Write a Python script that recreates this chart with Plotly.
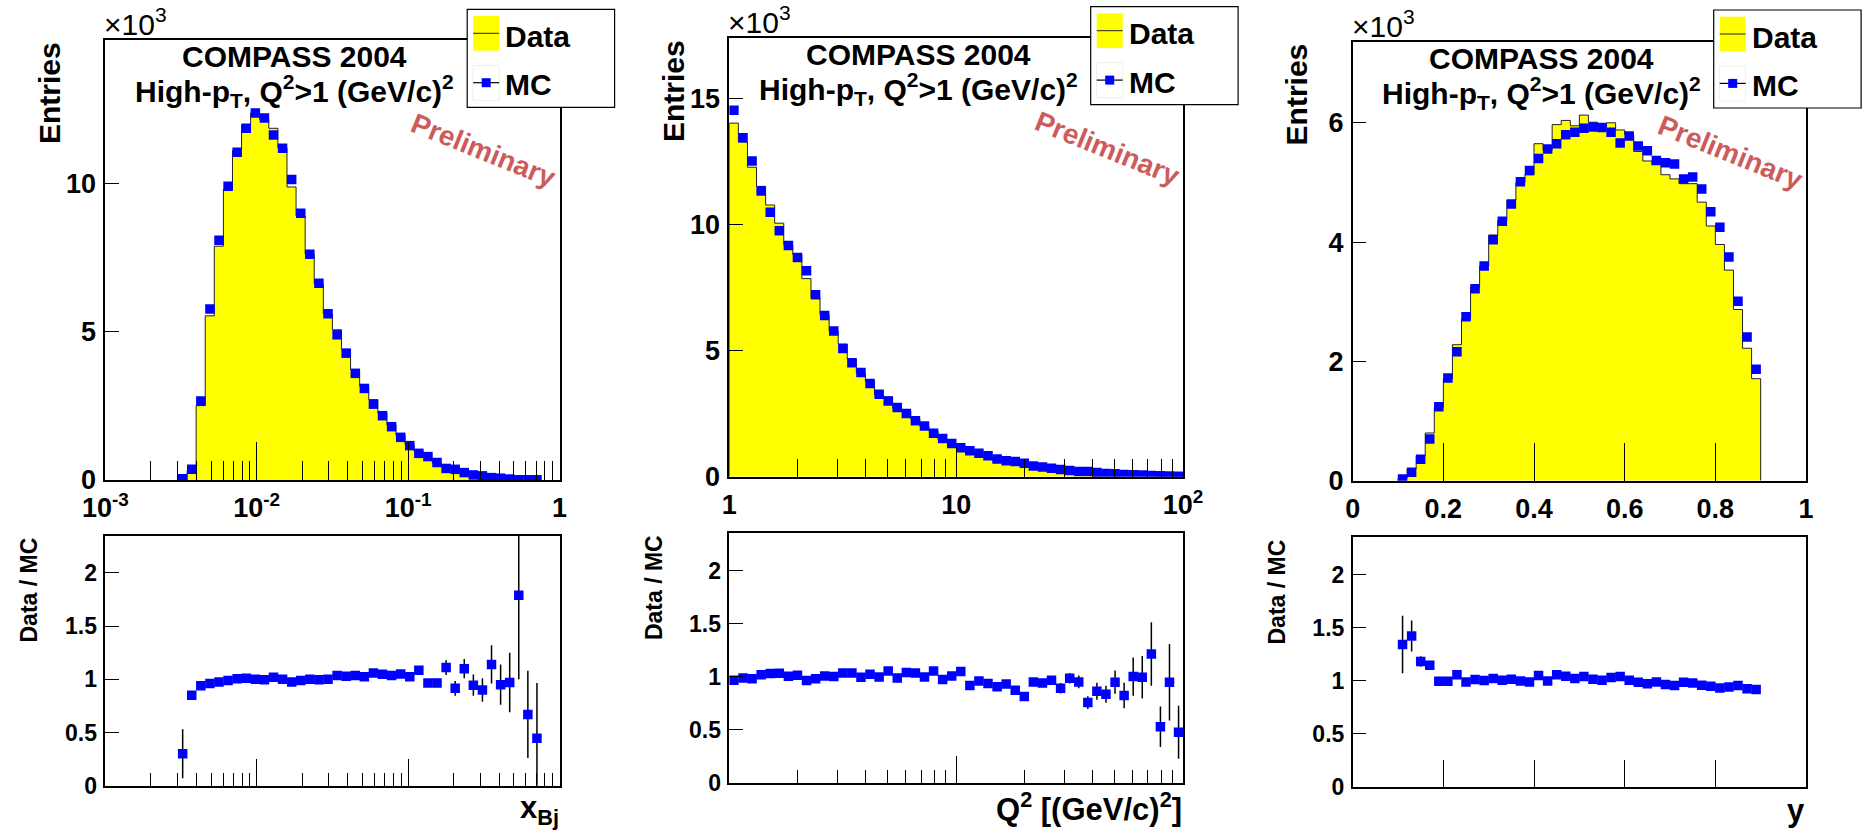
import numpy as np
import plotly.graph_objects as go

W, H = 1865, 830
FONT = "Liberation Sans"

# ---------------- data (values in units of 10^3 entries) ----------------
# Panel 1: x_Bj, 50 log bins from 1e-3 to 1, non-empty bins 8..47
xbj_first_bin = 8
xbj_mc = [0.04, 0.36, 2.67, 5.77, 8.09, 9.91, 11.06, 11.87, 12.39, 12.22,
          11.64, 11.20, 10.14, 9.00, 7.62, 6.64, 5.61, 4.90, 4.28, 3.60,
          3.09, 2.56, 2.17, 1.80, 1.44, 1.16, 0.90, 0.79, 0.59, 0.39,
          0.36, 0.25, 0.17, 0.14, 0.08, 0.06, 0.03, 0.01, 0.008, 0.005]
xbj_data = [0.01, 0.31, 2.51, 5.54, 7.89, 9.81, 11.12, 11.99, 12.39, 12.16,
            11.87, 11.20, 9.89, 8.91, 7.62, 6.61, 5.61, 5.07, 4.41, 3.73,
            3.17, 2.71, 2.27, 1.86, 1.51, 1.19, 0.98, 0.76, 0.57, 0.43,
            0.33, 0.275, 0.16, 0.126, 0.091, 0.057, 0.029, 0.018, 0.005, 0.002]
xbj_ratio = [0.30, 0.85, 0.94, 0.96, 0.975, 0.99, 1.005, 1.01, 1.0, 0.995,
             1.02, 1.0, 0.975, 0.99, 1.0, 0.995, 1.0, 1.035, 1.03, 1.035,
             1.025, 1.06, 1.047, 1.035, 1.05, 1.025, 1.085, 0.965, 0.965, 1.11,
             0.915, 1.10, 0.945, 0.90, 1.14, 0.95, 0.97, 1.79, 0.67, 0.445]
xbj_ratio_err = [0.23, 0.03, 0.015, 0.012, 0.01, 0.01, 0.01, 0.01, 0.01, 0.01,
                 0.01, 0.01, 0.01, 0.01, 0.01, 0.01, 0.012, 0.012, 0.014, 0.015,
                 0.016, 0.018, 0.02, 0.022, 0.025, 0.028, 0.03, 0.035, 0.04, 0.07,
                 0.07, 0.09, 0.10, 0.11, 0.18, 0.19, 0.28, 0.79, 0.41, 0.52]

# Panel 2: Q^2, 50 log bins from 1 to 100
q2_first_bin = 0
q2_mc = [14.54, 13.45, 12.53, 11.34, 10.49, 9.76, 9.17, 8.70, 8.17, 7.22,
         6.40, 5.78, 5.09, 4.52, 4.13, 3.70, 3.27, 3.00, 2.75, 2.51,
         2.22, 2.01, 1.72, 1.52, 1.32, 1.15, 1.03, 0.93, 0.83, 0.70,
         0.63, 0.60, 0.53, 0.42, 0.38, 0.34, 0.29, 0.25, 0.21, 0.21,
         0.17, 0.13, 0.12, 0.09, 0.08, 0.07, 0.05, 0.04, 0.03, 0.02]
q2_data = [14.03, 13.28, 12.28, 11.52, 10.78, 10.06, 9.20, 8.81, 7.86, 7.08,
           6.44, 5.78, 5.26, 4.67, 4.11, 3.78, 3.26, 3.16, 2.71, 2.61,
           2.30, 2.00, 1.81, 1.48, 1.33, 1.20, 0.94, 0.89, 0.78, 0.63,
           0.59, 0.52, 0.43, 0.40, 0.36, 0.33, 0.26, 0.25, 0.20, 0.16,
           0.15, 0.11, 0.11, 0.074, 0.08, 0.07, 0.06, 0.021, 0.028, 0.01]
q2_ratio = [0.965, 0.987, 0.98, 1.016, 1.028, 1.031, 1.003, 1.013, 0.962, 0.98,
            1.006, 1.0, 1.034, 1.034, 0.994, 1.022, 0.997, 1.053, 0.987, 1.038,
            1.034, 0.997, 1.053, 0.972, 1.006, 1.047, 0.915, 0.959, 0.934, 0.903,
            0.931, 0.871, 0.812, 0.95, 0.94, 0.965, 0.89, 0.984, 0.95, 0.755,
            0.862, 0.834, 0.947, 0.821, 1.0, 0.994, 1.213, 0.527, 0.947, 0.476]
q2_ratio_err = [0.01, 0.01, 0.01, 0.01, 0.01, 0.01, 0.01, 0.01, 0.01, 0.01,
                0.01, 0.01, 0.01, 0.01, 0.01, 0.01, 0.01, 0.01, 0.01, 0.01,
                0.01, 0.01, 0.01, 0.01, 0.01, 0.01, 0.02, 0.02, 0.02, 0.025,
                0.025, 0.03, 0.03, 0.03, 0.03, 0.04, 0.05, 0.05, 0.06, 0.06,
                0.08, 0.08, 0.11, 0.12, 0.18, 0.20, 0.30, 0.19, 0.36, 0.25]

# Panel 3: y, 50 linear bins from 0 to 1, non-empty bins 5..44
y_first_bin = 5
y_mc = [0.03, 0.14, 0.36, 0.70, 1.24, 1.72, 2.16, 2.75, 3.22, 3.60,
        4.04, 4.35, 4.64, 5.01, 5.20, 5.40, 5.56, 5.65, 5.80, 5.84,
        5.91, 5.93, 5.92, 5.84, 5.66, 5.78, 5.61, 5.53, 5.37, 5.33,
        5.31, 5.06, 5.09, 4.89, 4.51, 4.25, 3.75, 3.01, 2.41, 1.87]
y_data = [0.04, 0.20, 0.42, 0.80, 1.23, 1.71, 2.28, 2.71, 3.25, 3.60,
          4.12, 4.36, 4.70, 5.00, 5.13, 5.65, 5.54, 5.97, 6.04, 5.95,
          6.13, 6.01, 5.94, 6.00, 5.88, 5.80, 5.52, 5.36, 5.30, 5.13,
          5.06, 4.98, 4.98, 4.67, 4.27, 3.96, 3.53, 2.87, 2.22, 1.71]
y_ratio = [1.34, 1.42, 1.18, 1.144, 0.994, 0.994, 1.056, 0.987, 1.009, 1.0,
           1.019, 1.003, 1.013, 0.997, 0.987, 1.047, 0.997, 1.056, 1.041, 1.019,
           1.038, 1.013, 1.003, 1.028, 1.038, 1.003, 0.984, 0.969, 0.987, 0.962,
           0.953, 0.984, 0.978, 0.956, 0.947, 0.931, 0.94, 0.953, 0.922, 0.915]
y_ratio_err = [0.27, 0.145, 0.05, 0.03, 0.02, 0.015, 0.01, 0.01, 0.01, 0.01,
               0.01, 0.01, 0.01, 0.01, 0.01, 0.01, 0.01, 0.01, 0.01, 0.01,
               0.01, 0.01, 0.01, 0.01, 0.01, 0.01, 0.01, 0.01, 0.01, 0.01,
               0.01, 0.01, 0.01, 0.01, 0.01, 0.01, 0.01, 0.01, 0.01, 0.01]

# axis labels
xbj_major = [1e-3, 1e-2, 1e-1, 1]
xbj_major_text = ["10<sup>-3</sup>", "10<sup>-2</sup>", "10<sup>-1</sup>", "1"]
q2_major = [1, 10, 100]
q2_major_text = ["1", "10", "10<sup>2</sup>"]
y_major = [0, 0.2, 0.4, 0.6, 0.8, 1]
y_major_text = ["0", "0.2", "0.4", "0.6", "0.8", "1"]
top_yticks = [[0, 5, 10], [0, 5, 10, 15], [0, 2, 4, 6]]
ratio_yticks = [0, 0.5, 1, 1.5, 2]
ratio_yticktext = ["0", "0.5", "1", "1.5", "2"]
x_titles = ["x<sub>Bj</sub>", "Q<sup>2</sup> [(GeV/c)<sup>2</sup>]", "y"]

# ---------------- geometry (pixels) ----------------
frames = [
    dict(l=105.3, r=559.5, tt=39.7, tb=480.0, bt=535.7, bb=785.7, lt=9.3),
    dict(l=729.3, r=1183.0, tt=37.7, tb=476.7, bt=533.3, bb=782.7, lt=6.7),
    dict(l=1352.7, r=1806.0, tt=41.7, tb=480.7, bt=537.3, bb=786.7, lt=10.0),
]
top_ymax = [14.86, 17.42, 7.36]
ratio_ymax = 2.35
major_len_top = [38, 30, 38]
minor_len_top = [19, 18, 19]
major_len_bot = 27
minor_len_bot = 13


def pxx(p):
    return p / W


def pxy(p):
    return 1 - p / H


edges_all = [np.logspace(-3, 0, 51), np.logspace(0, 2, 51), np.linspace(0, 1, 51)]
first_bins = [xbj_first_bin, q2_first_bin, y_first_bin]
mcs = [xbj_mc, q2_mc, y_mc]
datas = [xbj_data, q2_data, y_data]
ratios = [xbj_ratio, q2_ratio, y_ratio]
rerrs = [xbj_ratio_err, q2_ratio_err, y_ratio_err]
logs = [True, True, False]
xranges = [[-3, 0], [0, 2], [0, 1]]
majors = [xbj_major, q2_major, y_major]
major_texts = [xbj_major_text, q2_major_text, y_major_text]
minors = [
    [m * d for d in (1e-3, 1e-2, 1e-1) for m in range(2, 10)],
    [m * d for d in (1, 10) for m in range(2, 10)],
    None,
]

fig = go.Figure()
layout = {}
shapes = []
annotations = []

tickfont_top = dict(family=FONT, size=27, color="black", weight="bold")
tickfont_bot = dict(family=FONT, size=23, color="black", weight="bold")
MSIZE = 9.5

for k in range(3):
    f = frames[k]
    e = edges_all[k]
    fb = first_bins[k]
    n = len(mcs[k])
    ed = e[fb:fb + n + 1]
    centers = 0.5 * (ed[:-1] + ed[1:])
    it = 2 * k + 1
    ib = 2 * k + 2
    xt, yt = ("x" if it == 1 else f"x{it}"), ("y" if it == 1 else f"y{it}")
    xb, yb = f"x{ib}", f"y{ib}"

    # data histogram (filled step)
    step_x = [ed[0]] + list(ed[:n]) + [ed[n]]
    step_y = [0] + list(datas[k]) + [0]
    fig.add_trace(go.Scatter(x=step_x, y=step_y, mode="lines", line_shape="hv",
                             fill="tozeroy", fillcolor="#ffff00",
                             line=dict(color="#222222", width=1),
                             xaxis=xt, yaxis=yt, showlegend=False, hoverinfo="skip"))
    # MC points
    fig.add_trace(go.Scatter(x=centers, y=mcs[k], mode="markers",
                             marker=dict(symbol="square", size=MSIZE, color="#0000ff",
                                         line=dict(width=0)),
                             xaxis=xt, yaxis=yt, showlegend=False))
    # ratio
    fig.add_trace(go.Scatter(x=centers, y=ratios[k], mode="markers",
                             marker=dict(symbol="square", size=MSIZE, color="#0000ff",
                                         line=dict(width=0)),
                             error_y=dict(type="data", array=rerrs[k], visible=True,
                                          color="black", thickness=1.5, width=0),
                             xaxis=xb, yaxis=yb, showlegend=False))

    common = dict(showline=True, mirror=True, linecolor="black", linewidth=1.5,
                  showgrid=False, zeroline=False, ticks="inside", tickcolor="black",
                  tickwidth=1.2, automargin=False)
    xtype = "log" if logs[k] else "linear"
    minor_top = dict(tickmode="array", tickvals=minors[k], ticks="inside",
                     ticklen=minor_len_top[k], tickcolor="black", tickwidth=1.2) if minors[k] else None
    minor_bot = dict(tickmode="array", tickvals=minors[k], ticks="inside",
                     ticklen=minor_len_bot, tickcolor="black", tickwidth=1.2) if minors[k] else None

    xa_top = dict(common, type=xtype, range=xranges[k],
                  domain=[pxx(f["l"]), pxx(f["r"])], anchor=yt,
                  tickmode="array", tickvals=majors[k], ticktext=major_texts[k],
                  ticklen=major_len_top[k], tickfont=tickfont_top,
                  ticklabelstandoff=3)
    if minor_top:
        xa_top["minor"] = minor_top
    ya_top = dict(common, range=[0, top_ymax[k]],
                  domain=[pxy(f["tb"]), pxy(f["tt"])], anchor=xt,
                  tickmode="array", tickvals=top_yticks[k],
                  ticktext=[str(v) for v in top_yticks[k]],
                  ticklen=14, tickfont=tickfont_top, ticklabelstandoff=2)
    xa_bot = dict(common, type=xtype, range=xranges[k],
                  domain=[pxx(f["l"]), pxx(f["r"])], anchor=yb,
                  tickmode="array", tickvals=majors[k], showticklabels=False,
                  ticklen=major_len_bot)
    if minor_bot:
        xa_bot["minor"] = minor_bot
    ya_bot = dict(common, range=[0, ratio_ymax],
                  domain=[pxy(f["bb"]), pxy(f["bt"])], anchor=xb,
                  tickmode="array", tickvals=ratio_yticks, ticktext=ratio_yticktext,
                  ticklen=14, tickfont=tickfont_bot, ticklabelstandoff=2)

    layout["xaxis" if it == 1 else f"xaxis{it}"] = xa_top
    layout["yaxis" if it == 1 else f"yaxis{it}"] = ya_top
    layout[f"xaxis{ib}"] = xa_bot
    layout[f"yaxis{ib}"] = ya_bot

    # ---- texts ----
    cx = (f["l"] + f["r"]) / 2 - 38
    dy = f["tt"] - 39.7
    annotations += [
        dict(text="×10<sup>3</sup>", x=pxx(f["l"] - 3), y=pxy(f["tt"] + 3),
             xanchor="left", yanchor="bottom",
             font=dict(family=FONT, size=30, color="black")),
        dict(text="Entries", textangle=-90, x=pxx(f["l"] - 56), y=pxy(f["tt"]),
             xanchor="center", yanchor="top",
             font=dict(family=FONT, size=30, color="black", weight="bold")),
        dict(text="Data / MC", textangle=-90, x=pxx(f["l"] - 76), y=pxy(f["bt"]),
             xanchor="center", yanchor="top",
             font=dict(family=FONT, size=23, color="black", weight="bold")),
        dict(text="COMPASS 2004", x=pxx(cx), y=pxy(56.7 + dy),
             xanchor="center", yanchor="middle",
             font=dict(family=FONT, size=30, color="black", weight="bold")),
        dict(text="High-p<sub>T</sub>, Q<sup>2</sup>&gt;1 (GeV/c)<sup>2</sup>",
             x=pxx(cx), y=pxy(91 + dy), xanchor="center", yanchor="middle",
             font=dict(family=FONT, size=30, color="black", weight="bold")),
        dict(text="Preliminary", textangle=22, x=pxx(f["r"] - 76), y=pxy(f["tt"] + 111),
             xanchor="center", yanchor="middle",
             font=dict(family=FONT, size=28, color="#cc5c5c", weight="bold")),
        dict(text=x_titles[k], x=pxx(f["r"] + 1), y=pxy(f["bb"] + 24),
             xanchor="right", yanchor="middle",
             font=dict(family=FONT, size=31, color="black", weight="bold")),
    ]

    # ---- legend box (drawn) ----
    L = f["r"] - 92.3
    T = f["lt"]
    shapes += [
        dict(type="rect", x0=pxx(L), x1=pxx(L + 147.4), y0=pxy(T), y1=pxy(T + 98),
             line=dict(color="black", width=1.2), fillcolor="white", layer="above"),
        dict(type="rect", x0=pxx(L + 6), x1=pxx(L + 32), y0=pxy(T + 6.7), y1=pxy(T + 41.4),
             line=dict(width=0), fillcolor="#ffff00", layer="above"),
        dict(type="line", x0=pxx(L + 6), x1=pxx(L + 32), y0=pxy(T + 24), y1=pxy(T + 24),
             line=dict(color="#222222", width=1), layer="above"),
        dict(type="rect", x0=pxx(L + 5.7), x1=pxx(L + 32), y0=pxy(T + 56), y1=pxy(T + 91),
             line=dict(color="#eeeeee", width=1), fillcolor="white", layer="above"),
        dict(type="line", x0=pxx(L + 6), x1=pxx(L + 32), y0=pxy(T + 73.4), y1=pxy(T + 73.4),
             line=dict(color="black", width=1.2), layer="above"),
        dict(type="rect", x0=pxx(L + 19 - 4.5), x1=pxx(L + 19 + 4.5),
             y0=pxy(T + 73.4 - 4.5), y1=pxy(T + 73.4 + 4.5),
             line=dict(width=0), fillcolor="#0000ff", layer="above"),
    ]
    annotations += [
        dict(text="Data", x=pxx(L + 36), y=pxy(T + 27), xanchor="left", yanchor="middle",
             font=dict(family=FONT, size=30, color="black", weight="bold")),
        dict(text="MC", x=pxx(L + 36), y=pxy(T + 75.5), xanchor="left", yanchor="middle",
             font=dict(family=FONT, size=30, color="black", weight="bold")),
    ]

for a in annotations:
    a.update(xref="paper", yref="paper", showarrow=False)
for s in shapes:
    s.update(xref="paper", yref="paper")

fig.update_layout(
    width=W, height=H,
    margin=dict(l=0, r=0, t=0, b=0, autoexpand=False),
    paper_bgcolor="white", plot_bgcolor="white",
    showlegend=False,
    shapes=shapes, annotations=annotations,
    font=dict(family=FONT, color="black"),
    **layout,
)

fig.write_html(
    "out.html",
    config={"displayModeBar": False},
    post_script="document.body.style.margin='0px';document.body.style.padding='0px';"
                "document.body.style.overflow='hidden';",
)
